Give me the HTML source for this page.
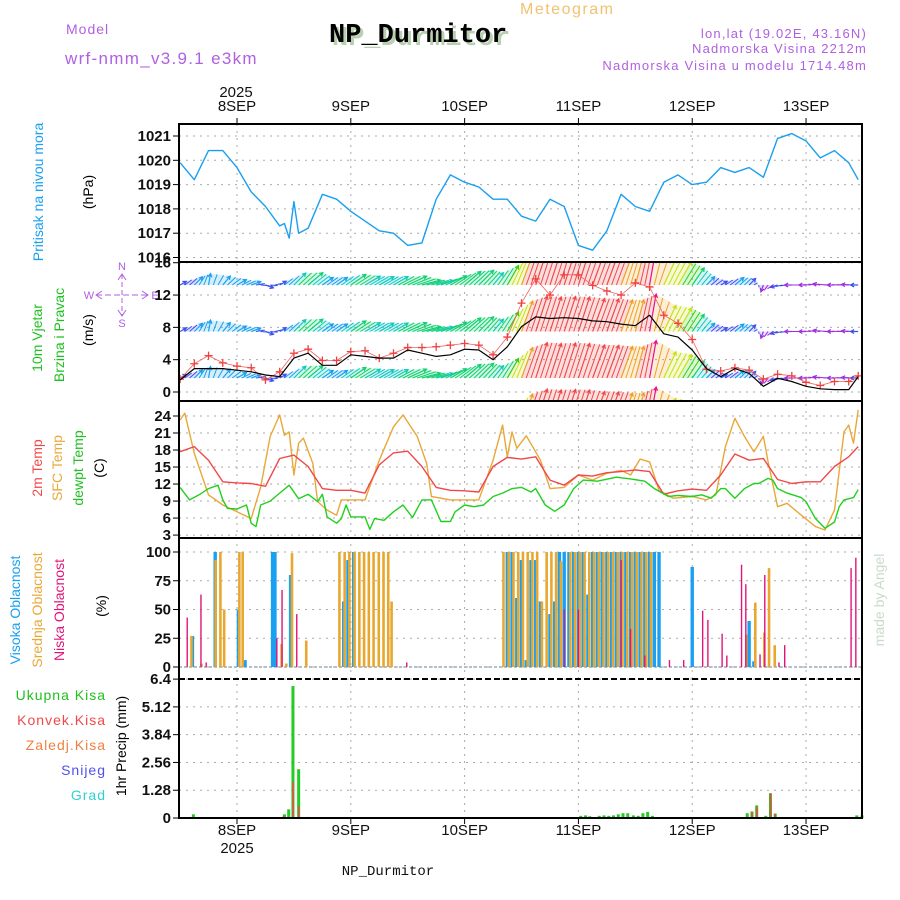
<!DOCTYPE html>
<html><head><meta charset="utf-8"><style>
html,body{margin:0;padding:0;background:#fff;}
svg{display:block;font-family:"Liberation Sans",sans-serif;}
</style></head><body>
<svg id="chart" width="900" height="900" viewBox="0 0 900 900">
<rect x="0" y="0" width="900" height="900" fill="#fff"/>
<text x="520" y="14" font-size="16" fill="#f2c26e" letter-spacing="1.5">Meteogram</text>
<text x="66" y="34" font-size="14" fill="#b060e0" letter-spacing="1">Model</text>
<text x="65" y="64" font-size="17" fill="#b060e0" letter-spacing="1.3">wrf-nmm_v3.9.1 e3km</text>
<text x="332" y="45" font-size="27" font-weight="bold" font-family="Liberation Mono,monospace" fill="#b8d0b0">NP_Durmitor</text>
<text x="329" y="42" font-size="27" font-weight="bold" font-family="Liberation Mono,monospace" fill="#000">NP_Durmitor</text>
<g font-size="13" fill="#b060e0" text-anchor="end" letter-spacing="1.2">
<text x="867" y="38">lon,lat (19.02E, 43.16N)</text>
<text x="867" y="53">Nadmorska Visina 2212m</text>
<text x="867" y="70">Nadmorska Visina u modelu 1714.48m</text>
</g>
<g font-size="14" text-anchor="middle" fill="#111">
<text x="236" y="97" font-size="15">2025</text>
<text x="237" y="853" font-size="15">2025</text>
<text x="388" y="875" font-size="14" font-family="Liberation Mono,monospace">NP_Durmitor</text>
</g>
<g font-size="14" text-anchor="middle">
<text transform="translate(43,192) rotate(-90)" fill="#1aa0f0">Pritisak na nivou mora</text>
<text transform="translate(93,192) rotate(-90)" fill="#000">(hPa)</text>
<text transform="translate(42,338) rotate(-90)" fill="#20c020">10m Vjetar</text>
<text transform="translate(64,335) rotate(-90)" fill="#20c020">Brzina i Pravac</text>
<text transform="translate(93,330) rotate(-90)" fill="#000">(m/s)</text>
<text transform="translate(42,468) rotate(-90)" fill="#f04848">2m Temp</text>
<text transform="translate(62,468) rotate(-90)" fill="#e8a838">SFC Temp</text>
<text transform="translate(83,468) rotate(-90)" fill="#20c020">dewpt Temp</text>
<text transform="translate(104,468) rotate(-90)" fill="#000">(C)</text>
<text transform="translate(20,610) rotate(-90)" fill="#1aa0f0">Visoka Oblacnost</text>
<text transform="translate(42,610) rotate(-90)" fill="#e8a838">Srednja Oblacnost</text>
<text transform="translate(64,610) rotate(-90)" fill="#e0157a">Niska Oblacnost</text>
<text transform="translate(106,606) rotate(-90)" fill="#000">(%)</text>
<text transform="translate(126,746) rotate(-90)" fill="#000">1hr Precip (mm)</text>
<text transform="translate(884,600) rotate(-90)" fill="#c8dcc8">made by Angel</text>
</g>
<g font-size="14" text-anchor="end" letter-spacing="1">
<text x="106" y="700" fill="#20c020">Ukupna  Kisa</text>
<text x="106" y="725" fill="#f04848">Konvek.Kisa</text>
<text x="106" y="750" fill="#f08040">Zaledj.Kisa</text>
<text x="106" y="775" fill="#5050f0">Snijeg</text>
<text x="106" y="800" fill="#30d0d0">Grad</text>
</g>
<g stroke="#b060e0" fill="#b060e0" font-size="11" text-anchor="middle">
<line x1="122" y1="274" x2="122" y2="316" stroke-dasharray="5,3"/>
<line x1="96" y1="295" x2="148" y2="295" stroke-dasharray="6,3"/>
<polyline points="118,280 122,274 126,280" fill="none"/>
<polyline points="118,310 122,316 126,310" fill="none"/>
<polyline points="102,291 96,295 102,299" fill="none"/>
<polyline points="142,291 148,295 142,299" fill="none"/>
<text x="122" y="270" stroke="none">N</text>
<text x="122" y="327" stroke="none">S</text>
<text x="89" y="299" stroke="none">W</text>
<text x="155" y="299" stroke="none">E</text>
</g>
<g id="plots"></g>
</svg>
<script>
const dayLabels = ["8SEP","9SEP","10SEP","11SEP","12SEP","13SEP"];
const pressTicks = [1016,1017,1018,1019,1020,1021];
const windTicks = [0,4,8,12,16];
const tempTicks = [3,6,9,12,15,18,21,24];
const cloudTicks = [0,25,50,75,100];
const precipTicks = ["0","1.28","2.56","3.84","5.12","6.4"];

const pressHours = [-12,-9,-6,-3,0,3,6,9,10,11,12,13,15,18,21,24,27,30,33,36,39,42,45,48,51,54,57,60,63,66,69,72,75,78,81,84,87,90,93,96,99,102,105,108,111,114,117,120,123,126,129,131];
const pressVals = [1019.9,1019.2,1020.4,1020.4,1019.7,1018.7,1018.1,1017.3,1017.4,1016.8,1018.3,1017.0,1017.2,1018.6,1018.4,1017.9,1017.5,1017.1,1017.0,1016.5,1016.6,1018.4,1019.4,1019.1,1018.9,1018.4,1018.4,1017.7,1017.5,1018.4,1018.1,1016.5,1016.3,1017.1,1018.6,1018.1,1017.9,1019.1,1019.4,1019.0,1019.1,1019.7,1019.5,1019.7,1019.3,1020.9,1021.1,1020.8,1020.1,1020.4,1019.9,1019.2];

const windHours = [-12,-9,-6,-3,0,3,6,9,12,15,18,21,24,27,30,33,36,39,42,45,48,51,54,57,60,63,66,69,72,75,78,81,84,87,90,93,96,99,102,105,108,111,114,117,120,123,126,129,131];
const windSpeed = [1.5,2.9,2.9,2.9,2.7,2.5,2.1,1.9,4.2,4.8,3.3,3.3,4.6,4.4,4.2,4.2,5.2,4.8,4.4,4.6,5.3,5.2,4.0,5.6,8.1,9.3,9.1,9.2,9.1,8.8,8.7,8.4,8.2,9.5,7.2,6.8,5.2,2.9,1.9,2.9,2.3,0.7,1.7,1.3,0.7,0.4,0.3,0.3,1.9];
const windGust = [1.6,3.5,4.5,3.6,3.2,3.0,1.5,2.5,4.8,5.3,3.9,3.9,5.0,5.1,4.2,4.8,5.5,5.5,5.6,5.8,6.0,5.8,4.6,6.8,11.0,14.0,12.0,14.5,14.5,13.2,12.5,12.0,13.5,13.0,9.5,8.5,6.5,2.8,2.6,3.0,2.7,1.6,2.2,2.0,1.2,0.8,1.3,1.3,2.0];
const windDir = [60,45,10,40,60,70,110,60,45,50,55,55,55,60,60,60,65,75,75,60,50,45,40,30,20,18,18,18,18,20,20,20,15,10,25,30,35,45,60,50,45,200,250,270,270,280,270,275,270];

const t2Hours = [-12,-9,-6,-3,0,3,6,9,12,15,18,21,24,27,30,33,36,39,42,45,48,51,54,57,60,63,66,69,72,75,78,81,84,87,90,93,96,99,102,105,108,111,114,117,120,123,126,129,131];
const t2Vals = [17.7,18.6,16.2,12.4,12.2,12.1,11.6,16.5,17.1,15.1,11.2,10.9,10.9,10.4,15.4,17.5,17.8,15.1,11.4,10.9,10.8,10.6,15.1,16.7,16.4,16.8,12.7,11.8,13.6,13.4,14.0,14.2,14.5,14.2,10.2,10.8,11.1,10.9,13.6,17.3,16.2,16.5,12.8,12.1,12.4,12.4,15.1,16.8,18.6];

const sfcHours = [-12,-11,-9,-6,-3,0,3,5,7,9,10,11,12,13,14,16,17,19,21,22,27,30,33,35,38,40,41,45,51,54,56,57,58,59,61,64,66,69,72,75,78,81,83,85,87,89,92,96,99,101,103,105,107,109,111,112,114,116,119,122,124,126,128,129,130,131];
const sfcVals = [23.3,24.5,17.4,10.1,8.3,7.1,5.9,11.5,20.4,24.2,20.6,21.2,13.6,19.2,20.1,15.6,8.9,7.4,6.5,9.2,9.2,16.2,22.1,24.2,20.4,15.6,9.8,9.2,9.2,16.2,22.4,16.8,21.2,18.3,20.5,16.2,11.2,11.4,13.6,12.7,13.9,14.4,13.6,16.4,15.9,10.9,9.5,9.8,9.2,10.1,18.6,23.6,20.4,17.7,20.4,15.9,8.0,8.6,6.5,4.5,3.9,7.4,21.2,22.4,19.2,25.1];

const tdHours = [-12,-10,-8,-6,-4,-3,-2,0,2,3,4,5,7,9,11,13,15,17,18,19,21,22,23,24,27,28,29,31,33,35,37,39,41,43,45,46,48,50,52,54,56,58,60,62,63,65,67,69,71,73,76,80,83,86,88,91,93,96,98,100,102,103,105,107,109,110,112,113,114,116,119,120,122,124,126,127,128,130,131];
const tdVals = [11.4,9.2,10.1,11.2,11.8,9.2,7.7,7.6,8.3,5.1,4.5,8.3,9.0,10.4,11.8,9.4,10.2,8.9,10.2,6.2,5.1,5.9,8.3,6.2,6.2,4.0,5.9,5.6,7.1,8.3,6.1,9.2,9.2,5.4,5.4,7.1,8.3,8.0,8.3,9.8,10.4,11.2,11.4,10.6,11.2,8.3,7.2,8.3,11.2,12.7,12.5,13.2,12.9,12.5,11.2,9.8,10.0,9.8,10.1,9.5,11.2,11.2,9.5,11.2,12.1,12.1,13.0,12.7,11.2,10.4,9.6,8.9,5.9,4.2,5.3,8.0,9.2,9.6,11.0];

const highHours = [-9.4,-4.6,0.3,1.7,7.5,8,11.3,22.5,23.4,24.6,57,58,59,60,61,62,63,64,66,67,68,69,70,71,72,73,74,75,76,77,78,79,80,81,82,83,84,85,86,87,88,89,96,108,109];
const highVals = [27,100,50,6,100,100,80,57,93,100,100,100,60,93,6,93,93,57,46,57,100,100,100,100,100,100,63,100,100,100,100,100,100,100,100,100,100,100,100,100,100,100,87,40,5];
const midHours = [-9.6,-7.5,-4.5,-3.5,-2.7,0.5,1.2,9.4,10.4,11.6,14.6,21.6,22.7,23.7,24.8,25.8,26.8,27.8,28.8,29.9,30.9,31.9,32.6,56.2,57.3,58.3,59.3,60.3,61.3,62.3,63.3,64.3,65.3,66.3,67.3,68.3,70.3,71.3,72.3,73.3,74.3,75.3,76.3,77.3,78.3,79.3,80.3,81.3,82.3,83.3,84.3,85.3,86.3,87.3,107.4,109.3,111.2,112.2,113.4];
const midVals = [27,3,93,100,50,100,100,20,3,99,23,100,100,100,100,100,100,100,100,100,100,100,57,100,100,100,100,100,100,100,100,57,100,100,100,92,100,100,100,100,100,100,100,100,100,100,100,100,100,100,100,100,100,100,28,56,30,86,19];
const lowHours = [-10.5,-7.6,-6.5,8.4,9.5,12.6,35.8,69,72,81,83,86,91.2,94.2,98.2,99.3,102.3,103.3,106.4,107.3,110.3,111.3,114.3,115.5,129.5,130.5];
const lowVals = [43,63,4,25,67,46,4,50,50,93,33,10,6,6,49,41,29,10,89,72,11,80,4,19,86,95];

const precipHours = [-9.2,10,10.9,11.8,13,72.5,73.5,74.4,76.4,77.4,78.4,79.4,80.4,81.4,82.4,83.6,84.6,85.6,86.6,87.6,107.6,108.6,109.6,111.5,112.5,113.5,130.7,131.8];
const precipTotal = [0.17,0.17,0.4,6.08,2.25,0.1,0.12,0.08,0.1,0.12,0.1,0.12,0.17,0.22,0.22,0.12,0.1,0.22,0.28,0.1,0.22,0.3,0.58,0.1,1.14,0.2,0.12,0.12];
const convHours = [9.8,11.8,13,14.9,108.6,109.6,112.5,113.5];
const convVals = [0.1,1.65,0.54,0.05,0.3,0.5,1.14,0.2];

const L = 179, R = 862;
const X = h => 237 + 4.742 * h;
const yP = v => 136 + (1021 - v) * 24.3;
const yW = v => 392 - v * 8.08;
const yT = v => 416 + (24 - v) * 5.67;
const yC = v => 667 - v * 1.15;
const yR = v => 818 - v * 21.7;
const panels = [[124,262],[262,401],[401,538],[538,679],[679,818]];

const NS = "http://www.w3.org/2000/svg";
const root = document.getElementById("plots");
function mk(tag, attrs, parent) {
  const el = document.createElementNS(NS, tag);
  for (const k in attrs) el.setAttribute(k, attrs[k]);
  (parent || root).appendChild(el);
  return el;
}
function clipRect(id, y0, y1) {
  const defs = mk("defs", {});
  const cp = mk("clipPath", {id: id}, defs);
  mk("rect", {x: L, y: y0, width: R - L, height: y1 - y0}, cp);
}
panels.forEach((p, i) => clipRect("clip" + i, p[0], p[1]));

dayLabels.forEach((d, i) => {
  const x = X(24 * i);
  const g = mk("line", {x1: x, y1: 124, x2: x, y2: 818, stroke: "#aaa", "stroke-dasharray": "2,5"});
  
  
  const t = mk("text", {x: x, y: 111, "font-size": 15, "text-anchor": "middle", fill: "#111"});
  t.textContent = d;
  
  
  const b = mk("text", {x: x, y: 835, "font-size": 15, "text-anchor": "middle", fill: "#111"});
  b.textContent = d;
  
  
  mk("line", {x1: x, y1: 118, x2: x, y2: 124, stroke: "#000"});
  mk("line", {x1: x, y1: 818, x2: x, y2: 824, stroke: "#000"});
});

function ticks(vals, fy, labels, name) {
  vals.forEach((v, i) => {
    const y = fy(v);
    const gl = mk("line", {x1: L, y1: y, x2: R, y2: y, stroke: "#aaa", "stroke-dasharray": "2,5"});
    
    
    mk("line", {x1: L - 6, y1: y, x2: L, y2: y, stroke: "#000"});
    const t = mk("text", {x: L - 8, y: y + 5, "font-size": 15, "font-weight": "bold", "text-anchor": "end", fill: "#111"});
    t.textContent = labels ? labels[i] : v;
    
    
  });
}
ticks(pressTicks, yP, null, "pressure");
ticks(windTicks, yW, null, "wind");
ticks(tempTicks, yT, null, "temp");
ticks(cloudTicks, yC, null, "cloud");
ticks(precipTicks.map(Number), yR, precipTicks, "precip");

function line(hours, vals, fy, color, w, clip, name) {
  const pts = hours.map((h, i) => X(h).toFixed(1) + "," + fy(vals[i]).toFixed(1)).join(" ");
  const el = mk("polyline", {points: pts, fill: "none", stroke: color, "stroke-width": w, "clip-path": "url(#" + clip + ")", "stroke-linejoin": "round"});
  
  
  return el;
}

line(pressHours, pressVals, yP, "#1a9ff0", 1.4, "clip0", "pressure-line");

function spdColor(s) {
  if (s < 1.5) return "#9a30e0";
  if (s < 2.5) return "#3c50f0";
  if (s < 3.5) return "#18a0f0";
  if (s < 4.5) return "#10c8c0";
  if (s < 5.5) return "#10d070";
  if (s < 6.5) return "#30d010";
  if (s < 7.5) return "#c8e010";
  if (s < 8.5) return "#f0a020";
  if (s < 9.4) return "#f04848";
  return "#e8108a";
}
const rowBase = [285, 331.5, 378, 424.5];
const windG = mk("g", {"clip-path": "url(#clip1)"});


rowBase.forEach(b => {
  const tips = windHours.map((h, i) => {
    const len = Math.max(windSpeed[i], 1.8) * 4;
    const a = windDir[i] * Math.PI / 180;
    return [X(h) + Math.sin(a) * len, b - Math.cos(a) * len];
  });
  for (let i = 0; i < windHours.length - 1; i++) {
    const c = spdColor((windSpeed[i] + windSpeed[i + 1]) / 2);
    const xa = X(windHours[i]), xb = X(windHours[i + 1]);
    const q = mk("polygon", {points: [xa + "," + b, tips[i].join(","), tips[i + 1].join(","), xb + "," + b].join(" "), fill: c, "fill-opacity": 0.18, stroke: "none"}, windG);
    
    
    // hatch strokes rendered across the segment
    let d = "";
    for (let k = 1; k < 3; k++) {
      const f = k / 3;
      const bx = xa + (xb - xa) * f;
      const tx = tips[i][0] + (tips[i + 1][0] - tips[i][0]) * f;
      const ty = tips[i][1] + (tips[i + 1][1] - tips[i][1]) * f;
      d += `M${bx},${b}L${tx},${ty}`;
    }
    const hl = mk("path", {d: d, stroke: c, "stroke-width": 1, fill: "none"}, windG);
    
    
  }
  windHours.forEach((h, i) => {
    const c = spdColor(windSpeed[i]);
    const x0 = X(h), [x1, y1] = tips[i];
    const a = Math.atan2(y1 - b, x1 - x0);
    const hx1 = x1 - 4 * Math.cos(a - 0.5), hy1 = y1 - 4 * Math.sin(a - 0.5);
    const hx2 = x1 - 4 * Math.cos(a + 0.5), hy2 = y1 - 4 * Math.sin(a + 0.5);
    const ar = mk("polyline", {points: `${x0},${b} ${x1},${y1} ${hx1},${hy1} ${x1},${y1} ${hx2},${hy2}`, fill: "none", stroke: c, "stroke-width": 1.2}, windG);
    
    
  });
});
line(windHours, windGust, yW, "#f06060", 0.8, "clip1", "wind-gust-line");
windHours.forEach((h, i) => {
  const x = X(h), y = yW(windGust[i]);
  const p = mk("path", {d: `M${x - 4},${y}H${x + 4}M${x},${y - 4}V${y + 4}`, stroke: "#f04040", "stroke-width": 1.3, "clip-path": "url(#clip1)"});
  
  
});
line(windHours, windSpeed, yW, "#000", 1.2, "clip1", "wind-speed-line");

line(sfcHours, sfcVals, yT, "#e8a838", 1.4, "clip2", "sfc-temp-line");
line(t2Hours, t2Vals, yT, "#f04848", 1.4, "clip2", "temp-2m-line");
line(tdHours, tdVals, yT, "#20d020", 1.4, "clip2", "dewpoint-line");

const base = mk("line", {x1: L, y1: yC(0), x2: R, y2: yC(0), stroke: "#9ab", "stroke-width": 1.5, "stroke-dasharray": "3,2"});


function bars(hours, vals, fy, color, w, off, name) {
  hours.forEach((h, i) => {
    const y = fy(vals[i]);
    const r = mk("rect", {x: X(h) - w / 2 + off, y: y, width: w, height: Math.max(fy(0) - y, 0), fill: color});
    
    
  });
}
bars(highHours, highVals, yC, "#1aa0f0", 3.4, 0, "high-cloud-bar");
bars(midHours, midVals, yC, "#e8a830", 2.6, 0, "mid-cloud-bar");
bars(lowHours, lowVals, yC, "#e0157a", 1.4, 0, "low-cloud-bar");

bars(precipHours, precipTotal, yR, "#22cc22", 3, 0, "total-precip-bar");
bars(convHours, convVals, yR, "#f04848", 1.6, 0, "convective-precip-bar");

const fr = mk("rect", {x: L, y: 124, width: R - L, height: 694, fill: "none", stroke: "#000", "stroke-width": 2});


[262, 401, 538].forEach(y => {
  const s = mk("line", {x1: L, y1: y, x2: R, y2: y, stroke: "#000", "stroke-width": 2});
  
  
});
const ds = mk("line", {x1: L, y1: 679, x2: R, y2: 679, stroke: "#000", "stroke-width": 2, "stroke-dasharray": "6,3"});


</script>
</body></html>
